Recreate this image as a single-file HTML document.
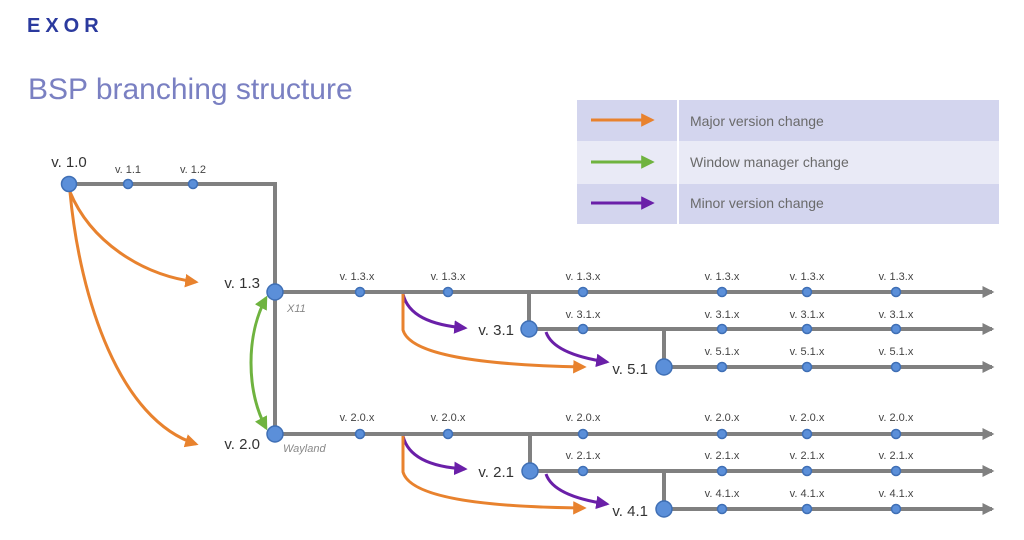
<!DOCTYPE html>
<html><head><meta charset="utf-8"><style>
html,body{margin:0;padding:0;background:#fff;}
svg{display:block;font-family:"Liberation Sans",sans-serif;}
</style></head><body>
<svg width="1024" height="540" viewBox="0 0 1024 540" xmlns="http://www.w3.org/2000/svg">
<defs>
<marker id="ao" viewBox="0 0 10 10" refX="8" refY="5" markerWidth="4.5" markerHeight="4.5" orient="auto" markerUnits="strokeWidth"><path d="M0,0L10,5L0,10z" fill="#e8822e"/></marker>
<marker id="ag" viewBox="0 0 10 10" refX="8" refY="5" markerWidth="4.5" markerHeight="4.5" orient="auto-start-reverse" markerUnits="strokeWidth"><path d="M0,0L10,5L0,10z" fill="#6fb33f"/></marker>
<marker id="ap" viewBox="0 0 10 10" refX="8" refY="5" markerWidth="4.5" markerHeight="4.5" orient="auto" markerUnits="strokeWidth"><path d="M0,0L10,5L0,10z" fill="#6a1fa8"/></marker>
<marker id="ay" viewBox="0 0 10 10" refX="8" refY="5" markerWidth="3" markerHeight="3" orient="auto" markerUnits="strokeWidth"><path d="M0,0L10,5L0,10z" fill="#808080"/></marker>
</defs>

<text x="27" y="32" font-size="20" font-weight="bold" fill="#2b3a9e" letter-spacing="5">EXOR</text>
<text x="28" y="99" font-size="30" fill="#7a80c2">BSP branching structure</text>

<rect x="577" y="100" width="422" height="41" fill="#d3d5ee"/>
<rect x="577" y="141" width="422" height="43" fill="#e9eaf6"/>
<rect x="577" y="184" width="422" height="40" fill="#d3d5ee"/>
<line x1="678" y1="100" x2="678" y2="224" stroke="#fff" stroke-width="2"/>
<line x1="591" y1="120" x2="652" y2="120" stroke="#e8822e" stroke-width="3" marker-end="url(#ao)"/>
<line x1="591" y1="162" x2="652" y2="162" stroke="#6fb33f" stroke-width="3" marker-end="url(#ag)"/>
<line x1="591" y1="203" x2="652" y2="203" stroke="#6a1fa8" stroke-width="3" marker-end="url(#ap)"/>
<g font-size="14" fill="#6a6a6a">
<text x="690" y="126">Major version change</text>
<text x="690" y="167">Window manager change</text>
<text x="690" y="208">Minor version change</text>
</g>

<g stroke="#808080" stroke-width="4" fill="none">
<polyline points="69,184 275,184 275,434"/>
<line x1="275" y1="292" x2="992" y2="292" marker-end="url(#ay)"/>
<line x1="529" y1="329" x2="992" y2="329" marker-end="url(#ay)"/>
<line x1="664" y1="367" x2="992" y2="367" marker-end="url(#ay)"/>
<line x1="529" y1="292" x2="529" y2="329"/>
<line x1="664" y1="329" x2="664" y2="367"/>
<line x1="275" y1="434" x2="992" y2="434" marker-end="url(#ay)"/>
<line x1="530" y1="471" x2="992" y2="471" marker-end="url(#ay)"/>
<line x1="664" y1="509" x2="992" y2="509" marker-end="url(#ay)"/>
<line x1="530" y1="434" x2="530" y2="471"/>
<line x1="664" y1="471" x2="664" y2="509"/>
</g>

<g fill="none" stroke-width="3">
<path d="M70,192 C90,240 140,275 196,282" stroke="#e8822e" marker-end="url(#ao)"/>
<path d="M70,192 C80,300 120,420 196,444" stroke="#e8822e" marker-end="url(#ao)"/>
<path d="M266,298 C246,335 246,390 266,428" stroke="#6fb33f" marker-start="url(#ag)" marker-end="url(#ag)"/>
<path d="M403,294 C408,315 430,325 465,328" stroke="#6a1fa8" marker-end="url(#ap)"/>
<path d="M403,294 L403,330 C410,355 480,365 584,367" stroke="#e8822e" marker-end="url(#ao)"/>
<path d="M546,332 C552,350 580,358 607,362" stroke="#6a1fa8" marker-end="url(#ap)"/>
<path d="M403,436 C408,457 430,467 465,469" stroke="#6a1fa8" marker-end="url(#ap)"/>
<path d="M403,436 L403,472 C410,497 480,507 584,508" stroke="#e8822e" marker-end="url(#ao)"/>
<path d="M546,474 C552,492 580,500 607,504" stroke="#6a1fa8" marker-end="url(#ap)"/>
</g>

<g fill="#5b8fd9" stroke="#3f6fb5" stroke-width="1.5">
<circle cx="69" cy="184" r="7.5"/>
<circle cx="128" cy="184" r="4.5"/><circle cx="193" cy="184" r="4.5"/>
<circle cx="275" cy="292" r="8"/><circle cx="275" cy="434" r="8"/>
<circle cx="529" cy="329" r="8"/><circle cx="664" cy="367" r="8"/>
<circle cx="530" cy="471" r="8"/><circle cx="664" cy="509" r="8"/>
<circle cx="360" cy="292" r="4.5"/><circle cx="448" cy="292" r="4.5"/><circle cx="583" cy="292" r="4.5"/><circle cx="722" cy="292" r="4.5"/><circle cx="807" cy="292" r="4.5"/><circle cx="896" cy="292" r="4.5"/>
<circle cx="583" cy="329" r="4.5"/><circle cx="722" cy="329" r="4.5"/><circle cx="807" cy="329" r="4.5"/><circle cx="896" cy="329" r="4.5"/>
<circle cx="722" cy="367" r="4.5"/><circle cx="807" cy="367" r="4.5"/><circle cx="896" cy="367" r="4.5"/>
<circle cx="360" cy="434" r="4.5"/><circle cx="448" cy="434" r="4.5"/><circle cx="583" cy="434" r="4.5"/><circle cx="722" cy="434" r="4.5"/><circle cx="807" cy="434" r="4.5"/><circle cx="896" cy="434" r="4.5"/>
<circle cx="583" cy="471" r="4.5"/><circle cx="722" cy="471" r="4.5"/><circle cx="807" cy="471" r="4.5"/><circle cx="896" cy="471" r="4.5"/>
<circle cx="722" cy="509" r="4.5"/><circle cx="807" cy="509" r="4.5"/><circle cx="896" cy="509" r="4.5"/>
</g>

<g font-size="15" fill="#333">
<text x="69" y="167" text-anchor="middle">v. 1.0</text>
<text x="260" y="288" text-anchor="end">v. 1.3</text>
<text x="260" y="449" text-anchor="end">v. 2.0</text>
<text x="514" y="335" text-anchor="end">v. 3.1</text>
<text x="648" y="374" text-anchor="end">v. 5.1</text>
<text x="514" y="477" text-anchor="end">v. 2.1</text>
<text x="648" y="516" text-anchor="end">v. 4.1</text>
</g>
<g font-size="11" fill="#888" font-style="italic">
<text x="287" y="312">X11</text>
<text x="283" y="452">Wayland</text>
</g>
<g font-size="11" fill="#444" text-anchor="middle">
<text x="128" y="173">v. 1.1</text><text x="193" y="173">v. 1.2</text>
<text x="357" y="280">v. 1.3.x</text><text x="448" y="280">v. 1.3.x</text><text x="583" y="280">v. 1.3.x</text><text x="722" y="280">v. 1.3.x</text><text x="807" y="280">v. 1.3.x</text><text x="896" y="280">v. 1.3.x</text>
<text x="583" y="318">v. 3.1.x</text><text x="722" y="318">v. 3.1.x</text><text x="807" y="318">v. 3.1.x</text><text x="896" y="318">v. 3.1.x</text>
<text x="722" y="355">v. 5.1.x</text><text x="807" y="355">v. 5.1.x</text><text x="896" y="355">v. 5.1.x</text>
<text x="357" y="421">v. 2.0.x</text><text x="448" y="421">v. 2.0.x</text><text x="583" y="421">v. 2.0.x</text><text x="722" y="421">v. 2.0.x</text><text x="807" y="421">v. 2.0.x</text><text x="896" y="421">v. 2.0.x</text>
<text x="583" y="459">v. 2.1.x</text><text x="722" y="459">v. 2.1.x</text><text x="807" y="459">v. 2.1.x</text><text x="896" y="459">v. 2.1.x</text>
<text x="722" y="497">v. 4.1.x</text><text x="807" y="497">v. 4.1.x</text><text x="896" y="497">v. 4.1.x</text>
</g>
</svg>
</body></html>
